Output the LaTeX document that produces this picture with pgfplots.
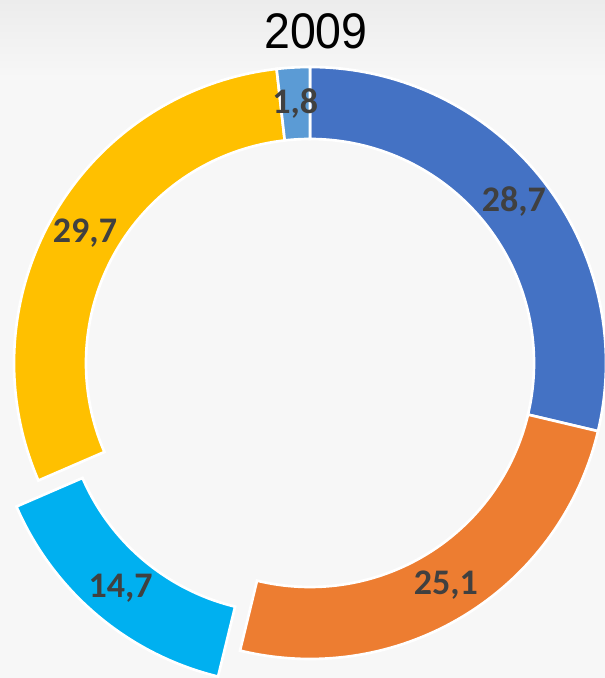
\documentclass[border=0pt]{standalone}
\usepackage{pgfplots}
\pgfplotsset{compat=1.18}
\usepackage{fontspec}
\setmainfont{Carlito}
\newfontfamily\titlefont{Liberation Sans}
\definecolor{cA}{HTML}{4472C4}
\definecolor{cB}{HTML}{ED7D31}
\definecolor{cC}{HTML}{00B0F0}
\definecolor{cD}{HTML}{FFC000}
\definecolor{cE}{HTML}{5B9BD5}
\definecolor{bg}{HTML}{F7F7F7}
\definecolor{bgtop}{HTML}{ECECEC}
\definecolor{lbl}{HTML}{404040}
% values (percent)
\def\vA{28.7}\def\vB{25.1}\def\vC{14.7}\def\vD{29.7}\def\vE{1.8}
\pgfmathsetmacro\aO{90}
\pgfmathsetmacro\aA{\aO-3.6*\vA}
\pgfmathsetmacro\aB{\aA-3.6*\vB}
\pgfmathsetmacro\aC{\aB-3.6*\vC}
\pgfmathsetmacro\aD{\aC-3.6*\vD}
\pgfmathsetmacro\aE{\aD-3.6*\vE}
\pgfmathsetmacro\midC{(\aB+\aC)/2}
\pgfmathsetmacro\cxC{310+34*cos(\midC)}
\pgfmathsetmacro\cyC{315+34*sin(\midC)}
\newcommand{\seg}[5]{%
\addplot[fill=#1, draw=white, line width=2pt, domain=0:201, samples=202, variable=\t]
 ({#4 + (\t<100.5 ? 296 : 224)*cos(#2 + (#3-(#2))*(\t<100.5 ? \t/100 : (201-\t)/100))},
  {#5 + (\t<100.5 ? 296 : 224)*sin(#2 + (#3-(#2))*(\t<100.5 ? \t/100 : (201-\t)/100))}) -- cycle;}
\begin{document}
\begin{tikzpicture}
\begin{axis}[x=0.75pt, y=0.75pt, xmin=0, xmax=605, ymin=0, ymax=678,
  hide axis, clip=true, axis line style={draw=none}]
\path[fill=bg] (axis cs:0,0) rectangle (axis cs:605,678);
\path[top color=bgtop, bottom color=bg] (axis cs:0,600) rectangle (axis cs:605,678);
\seg{cA}{\aO}{\aA}{310}{315}
\seg{cB}{\aA}{\aB}{310}{315}
\seg{cC}{\aB}{\aC}{\cxC}{\cyC}
\seg{cD}{\aC}{\aD}{310}{315}
\seg{cE}{\aD}{\aE}{310}{315}
\addplot[only marks, mark=none, nodes near coords, point meta=explicit symbolic,
  nodes near coords style={anchor=center, font=\fontsize{27}{27}\selectfont\bfseries, text=lbl}]
  table[meta=label] {
x y label
513.9 476.3 28,7
445.9 93.3 25,1
120.6 90.2 14,7
85.0 445.2 29,7
295.3 574.6 1,8
};
\node[font=\titlefont\fontsize{37.5}{37.5}\selectfont, xscale=0.93, anchor=center] at (axis cs:316,647) {2009};
\end{axis}
\end{tikzpicture}
\end{document}
